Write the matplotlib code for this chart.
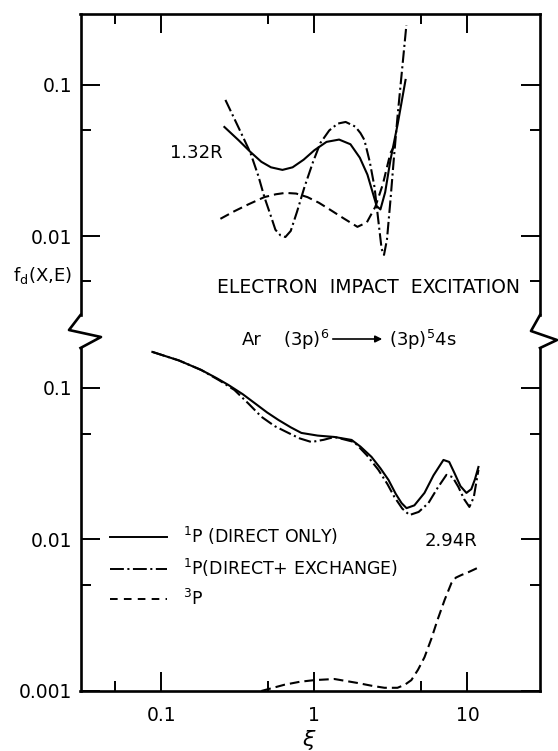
# Electron impact excitation of Ar, f_d(X,E) against xi, with a broken log axis.
import matplotlib
matplotlib.use("Agg")
import matplotlib.pyplot as plt
from matplotlib.lines import Line2D

plt.rcParams['font.family'] = ['DejaVu Sans']
plt.rcParams['mathtext.fontset'] = 'dejavusans'
plt.rcParams['lines.scale_dashes'] = False

# Data.
# Upper panel (1.32R).
up_solid_x = [0.258, 0.32, 0.382, 0.45, 0.52, 0.618, 0.72, 0.85, 1.0, 1.2, 1.45, 1.72, 1.98, 2.22, 2.40, 2.55, 2.70, 2.90, 3.14, 3.50, 3.94]
up_solid_y = [0.0527, 0.043, 0.036, 0.031, 0.0285, 0.0274, 0.0285, 0.032, 0.037, 0.042, 0.0435, 0.0405, 0.033, 0.0255, 0.0195, 0.0158, 0.0150, 0.0195, 0.0319, 0.055, 0.108]
up_dashdot_x = [0.262, 0.32, 0.382, 0.43, 0.471, 0.52, 0.556, 0.60, 0.646, 0.70, 0.77, 0.861, 0.98, 1.094, 1.25, 1.42, 1.60, 1.85, 2.0, 2.12, 2.30, 2.47, 2.62, 2.75, 2.85, 2.98, 3.14, 3.30, 3.49, 3.75, 3.99]
up_dashdot_y = [0.0796, 0.052, 0.0355, 0.025, 0.0181, 0.0135, 0.011, 0.0101, 0.00985, 0.0108, 0.0145, 0.0211, 0.031, 0.0413, 0.050, 0.0555, 0.0569, 0.053, 0.048, 0.0433, 0.031, 0.0211, 0.0125, 0.0082, 0.0075, 0.0095, 0.0173, 0.032, 0.0614, 0.13, 0.249]
up_dashed_x = [0.243, 0.30, 0.37, 0.471, 0.56, 0.646, 0.76, 0.90, 1.07, 1.27, 1.55, 1.91, 2.20, 2.50, 2.80, 3.14, 3.49]
up_dashed_y = [0.013, 0.0146, 0.0162, 0.0181, 0.0189, 0.0193, 0.0191, 0.0181, 0.0166, 0.0149, 0.0131, 0.0115, 0.0123, 0.0156, 0.022, 0.0355, 0.043]

# Lower panel (2.94R).
lo_solid_x = [0.0873, 0.13, 0.182, 0.23, 0.274, 0.34, 0.406, 0.49, 0.582, 0.70, 0.822, 1.05, 1.35, 1.75, 2.0, 2.36, 2.70, 3.05, 3.40, 3.71, 4.0, 4.5, 5.24, 6.0, 6.97, 7.6, 8.22, 9.0, 9.85, 10.6, 11.2, 11.8]
lo_solid_y = [0.173, 0.152, 0.1315, 0.116, 0.1047, 0.091, 0.0796, 0.069, 0.0615, 0.055, 0.0505, 0.0485, 0.0475, 0.0454, 0.041, 0.0351, 0.0295, 0.0247, 0.020, 0.0174, 0.0161, 0.0168, 0.0203, 0.0265, 0.0335, 0.0325, 0.0275, 0.0225, 0.0203, 0.0215, 0.025, 0.0301]
lo_dashdot_x = [0.0873, 0.13, 0.182, 0.24, 0.30, 0.37, 0.451, 0.55, 0.676, 0.80, 0.955, 1.15, 1.35, 1.82, 2.2, 2.62, 3.0, 3.33, 3.75, 4.18, 4.8, 5.56, 6.4, 7.29, 8.0, 8.73, 9.5, 10.3, 11.0, 11.8]
lo_dashdot_y = [0.173, 0.152, 0.1315, 0.112, 0.097, 0.079, 0.0645, 0.056, 0.0505, 0.0465, 0.044, 0.0455, 0.0475, 0.044, 0.036, 0.0288, 0.0232, 0.0191, 0.0160, 0.0145, 0.0152, 0.0174, 0.0220, 0.0267, 0.0258, 0.0222, 0.0185, 0.0164, 0.019, 0.0288]
lo_dashed_x = [0.45, 0.637, 0.8, 1.0, 1.35, 1.91, 2.4, 2.87, 3.49, 3.9, 4.30, 4.75, 5.24, 5.8, 6.37, 7.1, 7.86, 8.4, 9.14, 10.2, 11.6]
lo_dashed_y = [0.001, 0.0011, 0.00115, 0.00118, 0.0012, 0.00113, 0.00108, 0.00105, 0.00105, 0.0011, 0.00118, 0.00138, 0.00167, 0.0022, 0.00294, 0.0040, 0.00516, 0.0056, 0.00583, 0.0061, 0.00648]

legend_labels = [r'$^{1}$P (DIRECT ONLY)', r'$^{1}$P(DIRECT+ EXCHANGE)', r'$^{3}$P']

W_PX, H_PX = 558, 751
fig = plt.figure(figsize=(W_PX / 100, H_PX / 100), dpi=100)

def fx(px):
    return px / W_PX

def fy(py):
    return 1 - py / H_PX

left, right = 80.5, 540
ax_up = fig.add_axes([fx(left), fy(315), fx(right) - fx(left), fy(14) - fy(315)])
ax_lo = fig.add_axes([fx(left), fy(691), fx(right) - fx(left), fy(348) - fy(691)])

lw = 1.5
dd = (9, 2.5, 1.5, 2.5)
dsh = (7, 3.6)

for ax in (ax_up, ax_lo):
    ax.set_xscale('log')
    ax.set_yscale('log')
    ax.set_xlim(0.0296, 29.8)
    ax.set_xticks([0.1, 1, 10])
    ax.set_xticks([0.05, 0.5, 5], minor=True)
    ax.xaxis.set_minor_formatter(plt.NullFormatter())
    ax.tick_params(which='major', length=14, width=1.4, direction='in', labelsize=13.5)
    ax.tick_params(which='minor', length=7.5, width=1.4, direction='in')
    ax.tick_params(axis='y', which='both', left=True, right=True, pad=6)
    for s in ax.spines.values():
        s.set_linewidth(1.9)
    ax.patch.set_alpha(0)

# upper panel
ax_up.set_ylim(0.0030, 0.295)
ax_up.set_yticks([0.01, 0.1])
ax_up.set_yticklabels(['0.01', '0.1'])
ax_up.set_yticks([0.005, 0.05], minor=True)
ax_up.yaxis.set_minor_formatter(plt.NullFormatter())
ax_up.spines['bottom'].set_visible(False)
ax_up.tick_params(axis='x', which='both', top=True, bottom=False, labelbottom=False)
ax_up.plot(up_solid_x, up_solid_y, c='k', lw=lw)
ax_up.plot(up_dashdot_x, up_dashdot_y, c='k', lw=lw, dashes=dd)
ax_up.plot(up_dashed_x, up_dashed_y, c='k', lw=lw, dashes=dsh)
ax_up.text(0.17, 0.0355, '1.32R', fontsize=13, ha='center', va='center')

# lower panel
ax_lo.set_ylim(0.001, 0.1836)
ax_lo.set_yticks([0.001, 0.01, 0.1])
ax_lo.set_yticklabels(['0.001', '0.01', '0.1'])
ax_lo.set_yticks([0.005, 0.05], minor=True)
ax_lo.yaxis.set_minor_formatter(plt.NullFormatter())
ax_lo.set_xticklabels(['0.1', '1', '10'])
ax_lo.spines['top'].set_visible(False)
ax_lo.tick_params(axis='x', which='both', top=False, bottom=True, pad=11)
ax_lo.plot(lo_solid_x, lo_solid_y, c='k', lw=lw)
ax_lo.plot(lo_dashdot_x, lo_dashdot_y, c='k', lw=lw, dashes=dd)
ax_lo.plot(lo_dashed_x, lo_dashed_y, c='k', lw=lw, dashes=dsh)
ax_lo.text(7.85, 0.0098, '2.94R', fontsize=13, ha='center', va='center')

handles = [Line2D([], [], c='k', lw=1.4),
           Line2D([], [], c='k', lw=1.4, dashes=(10, 2.5, 1.5, 2.5)),
           Line2D([], [], c='k', lw=1.4, dashes=(5.5, 4.5))]
ax_lo.legend(handles, legend_labels, loc='upper left', bbox_to_anchor=(0.064, 0.483),
             frameon=False, fontsize=12.5, handlelength=3.3, handletextpad=0.9,
             labelspacing=0.55, borderpad=0, borderaxespad=0)

# axis break marks
zz_left = [(80.5, 315), (69, 330), (101, 337), (80.5, 348)]
zz_right = [(540, 315), (531, 331), (557, 340), (540, 348)]
for zz in (zz_left, zz_right):
    fig.add_artist(Line2D([fx(p[0]) for p in zz], [fy(p[1]) for p in zz],
                          color='k', lw=1.9, transform=fig.transFigure))

# annotations
fig.text(fx(217), fy(288), 'ELECTRON  IMPACT  EXCITATION', fontsize=13.5, va='center')
fig.text(fx(242), fy(340), 'Ar', fontsize=13, va='center')
fig.text(fx(283), fy(340), r'(3p)$^{6}$', fontsize=13, va='center')
fig.text(fx(389), fy(340), r'(3p)$^{5}$4s', fontsize=13, va='center')
fig.add_artist(matplotlib.patches.FancyArrowPatch((fx(330), fy(339)), (fx(385), fy(339)),
               transform=fig.transFigure, arrowstyle='-|>', mutation_scale=10, lw=1.2, color='k'))
fig.text(fx(13), fy(276), r'f$_\mathregular{d}$(X,E)', fontsize=13, va='center')
fig.text(fx(309), fy(740), r'$\xi$', fontsize=16, ha='center', va='center')

fig.savefig('out.png', dpi=100)
